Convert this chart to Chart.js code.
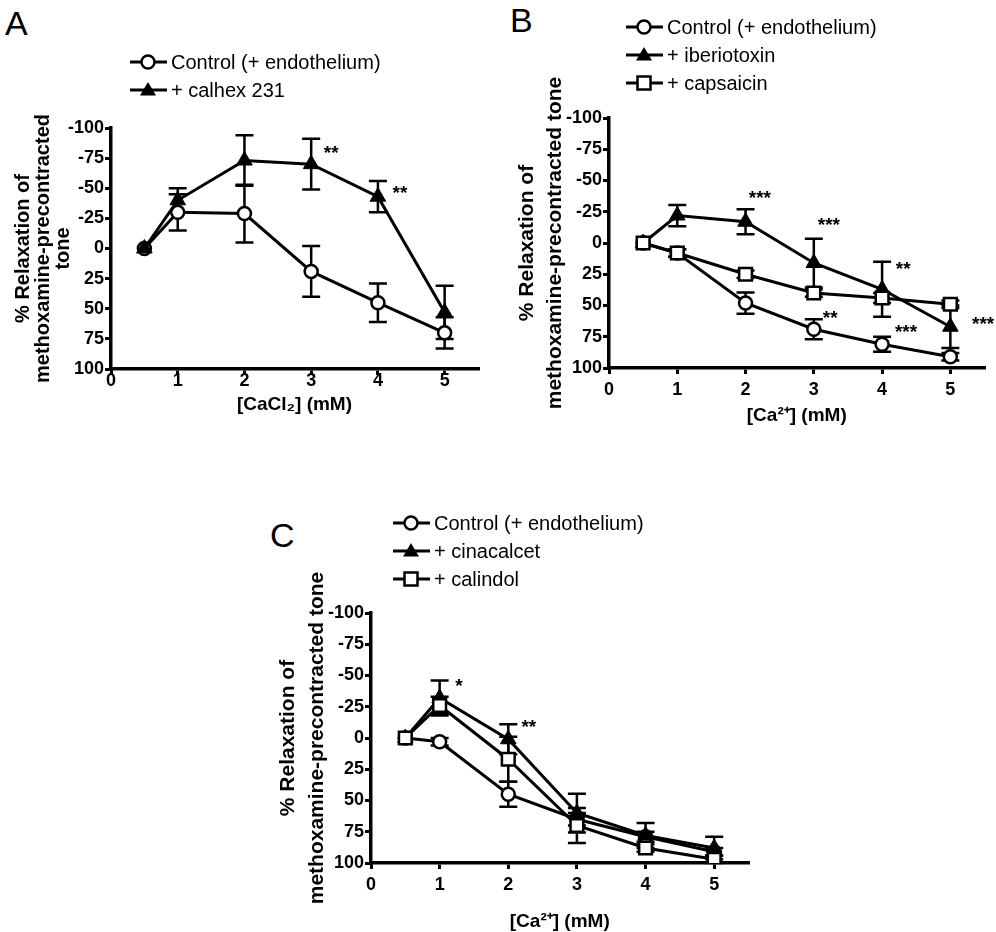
<!DOCTYPE html>
<html>
<head>
<meta charset="utf-8">
<script src="https://cdn.jsdelivr.net/npm/chart.js@4.4.0/dist/chart.umd.min.js"></script>
<style>
    body{margin:0;width:996px;height:932px;overflow:hidden;background:#fff;position:relative;font-family:"Liberation Sans",Arial,sans-serif;}
    .letter{position:absolute;font-size:34px;line-height:34px;color:#000;}
    .legend{position:absolute;font-size:20px;color:#000;}
    .legend div{height:28px;display:flex;align-items:center;white-space:nowrap;}
    .legend svg{margin-right:4px;}
    canvas{position:absolute;}
</style>
</head>
<body>
<canvas id="chartA" width="495" height="330" style="left:0;top:90px"></canvas>
<canvas id="chartB" width="496" height="361" style="left:500px;top:70px"></canvas>
<canvas id="chartC" width="500" height="381" style="left:260px;top:560px"></canvas>
<div class="letter" style="left:5px;top:6px">A</div>
<div class="letter" style="left:510px;top:3px">B</div>
<div class="letter" style="left:270px;top:518px">C</div>
<div class="legend" id="legA" style="left:130px;top:48px"></div>
<div class="legend" id="legB" style="left:626px;top:13px"></div>
<div class="legend" id="legC" style="left:393px;top:509px"></div>
<script>
// Ca concentrations (mM)
const doses = [0.5, 1, 2, 3, 4, 5];

// panel A
const ctrlA = [0, -30, -29, 19, 45, 70];
const ctrlA_sem = [0, 15, 24, 21, 16, 13];
const calhex = [0, -40, -73, -70, -43, 53];
const calhex_sem = [0, 10, 21, 21, 13, 22];
const starsA = [
    {x: 3.3, y: -83, t: '**'},
    {x: 4.33, y: -50, t: '**'},
];

// panel B
const ctrlB = [0, 8, 48, 69, 81, 91];
const ctrlB_sem = [0, 3, 8.5, 8, 6, 3];
const iberio = [0, -22, -17, 16, 37, 67];
const iberio_sem = [0, 8.5, 10, 19.5, 22, 17];
const capsa = [0, 8, 25, 40, 44, 49];
const capsa_sem = [0, 3, 3, 3, 4, 3];
const starsB = [
    {x: 2.21, y: -40, t: '***'},
    {x: 3.22, y: -18.6, t: '***'},
    {x: 4.31, y: 17, t: '**'},
    {x: 3.24, y: 56, t: '**'},
    {x: 4.35, y: 67, t: '***'},
    {x: 5.48, y: 61, t: '***'},
];

// panel C
const ctrlC = [0, 3, 45, 65, 79, 91];
const ctrlC_sem = [0, 3, 10, 5, 4, 3];
const cinac = [0, -32, 1, 60, 78, 88];
const cinac_sem = [0, 14, 12, 15.5, 10, 9];
const calind = [0, -26, 17, 70, 88, 97];
const calind_sem = [0, 7, 18, 14, 3, 3];
const starsC = [
    {x: 1.28, y: -46, t: '*'},
    {x: 2.3, y: -13, t: '**'},
];

const yTitleLong = ['% Relaxation of', 'methoxamine-precontracted tone'];
const yTitleA = ['% Relaxation of', 'methoxamine-precontracted', 'tone'];

Chart.defaults.font.family = '"Liberation Sans", Arial, sans-serif';
Chart.defaults.color = '#000';

const markers = {
    circle: {pointStyle: 'circle', pointRadius: 6.5, pointBorderWidth: 2.5, pointBackgroundColor: '#fff'},
    triangle: {pointStyle: 'triangle', pointRadius: 9, pointBorderWidth: 1, pointBackgroundColor: '#000'},
    rect: {pointStyle: 'rect', pointRadius: 9, pointBorderWidth: 2.5, pointBackgroundColor: '#fff'},
};

function series(label, vals, sem, style, order) {
    return Object.assign({
        label: label,
        data: doses.map((d, i) => ({x: d, y: vals[i]})),
        sem: sem,
        order: order,
        borderColor: '#000',
        borderWidth: 3,
        pointBorderColor: '#000',
        fill: false,
        tension: 0,
    }, markers[style]);
}

// error bars under the markers, asterisks on top
const errorBars = {
    id: 'errorBars',
    beforeDatasetsDraw(chart) {
        const ctx = chart.ctx, xs = chart.scales.x, ys = chart.scales.y;
        ctx.save();
        ctx.strokeStyle = '#000';
        ctx.lineWidth = 2.5;
        chart.data.datasets.forEach(ds => {
            ds.sem.forEach((e, i) => {
                if (!e) return;
                const p = ds.data[i];
                const x = xs.getPixelForValue(p.x);
                const y1 = ys.getPixelForValue(p.y - e);
                const y2 = ys.getPixelForValue(p.y + e);
                ctx.beginPath();
                ctx.moveTo(x, y1); ctx.lineTo(x, y2);
                ctx.moveTo(x - 9, y1); ctx.lineTo(x + 9, y1);
                ctx.moveTo(x - 9, y2); ctx.lineTo(x + 9, y2);
                ctx.stroke();
            });
        });
        ctx.restore();
    },
    afterDatasetsDraw(chart, args, opts) {
        const ctx = chart.ctx, xs = chart.scales.x, ys = chart.scales.y;
        ctx.save();
        ctx.fillStyle = '#000';
        ctx.font = 'bold 19px "Liberation Sans", Arial, sans-serif';
        ctx.textAlign = 'center';
        ctx.textBaseline = 'alphabetic';
        (opts.stars || []).forEach(s => {
            ctx.fillText(s.t, xs.getPixelForValue(s.x), ys.getPixelForValue(s.y) + 11);
        });
        ctx.restore();
    }
};

function legendIcon(style) {
    let m = '';
    if (style === 'circle') m = '<circle cx="18" cy="10" r="6.5" fill="#fff" stroke="#000" stroke-width="2.5"/>';
    if (style === 'triangle') m = '<polygon points="18,2 26,15.5 10,15.5" fill="#000"/>';
    if (style === 'rect') m = '<rect x="11.5" y="3.5" width="13" height="13" fill="#fff" stroke="#000" stroke-width="2.5"/>';
    return '<svg width="37" height="20"><line x1="0" y1="10" x2="37" y2="10" stroke="#000" stroke-width="3"/>' + m + '</svg>';
}

function makeLegend(id, datasets) {
    const el = document.getElementById(id);
    datasets.forEach(ds => {
        const row = document.createElement('div');
        row.innerHTML = legendIcon(ds.pointStyle) + '<span>' + ds.label + '</span>';
        el.appendChild(row);
    });
}

function makeChart(id, datasets, stars, o) {
    return new Chart(document.getElementById(id), {
        type: 'line',
        data: {datasets: datasets},
        options: {
            responsive: false,
            animation: false,
            layout: {padding: o.pad},
            plugins: {
                legend: {display: false},
                tooltip: {enabled: false},
                errorBars: {stars: stars},
            },
            scales: {
                x: {
                    type: 'linear', min: 0, max: 5.5,
                    afterFit: s => { s.height = o.xh; },
                    ticks: {stepSize: 1, includeBounds: false, color: '#000', padding: o.xpad,
                        font: {size: 18, weight: 'bold'}},
                    grid: {drawOnChartArea: false, color: '#000', lineWidth: 3, tickLength: 6},
                    border: {color: '#000', width: 3.5},
                    title: {display: true, text: o.xtitle, color: '#000', padding: {top: 0, bottom: o.xtb},
                        font: {size: 19, weight: 'bold'}},
                },
                y: {
                    type: 'linear', min: -100, max: 100, reverse: true,
                    afterFit: s => { s.width = o.yw; },
                    ticks: {stepSize: 25, color: '#000', padding: 1, font: {size: 18, weight: 'bold'}},
                    grid: {drawOnChartArea: false, color: '#000', lineWidth: 3, tickLength: 6},
                    border: {color: '#000', width: 3.5},
                    title: {display: true, text: o.ytitle, color: '#000', padding: {top: o.ytp, bottom: 0},
                        font: {size: o.yfs, weight: 'bold', lineHeight: o.ylh}},
                },
            },
        },
        plugins: [errorBars],
    });
}

const dsA = [
    series('Control (+ endothelium)', ctrlA, ctrlA_sem, 'circle', 2),
    series('+ calhex 231', calhex, calhex_sem, 'triangle', 1),
];
const dsB = [
    series('Control (+ endothelium)', ctrlB, ctrlB_sem, 'circle', 3),
    series('+ iberiotoxin', iberio, iberio_sem, 'triangle', 2),
    series('+ capsaicin', capsa, capsa_sem, 'rect', 1),
];
const dsC = [
    series('Control (+ endothelium)', ctrlC, ctrlC_sem, 'circle', 3),
    series('+ cinacalcet', cinac, cinac_sem, 'triangle', 2),
    series('+ calindol', calind, calind_sem, 'rect', 1),
];

makeLegend('legA', dsA);
makeLegend('legB', dsB);
makeLegend('legC', dsC);

makeChart('chartA', dsA, starsA, {
    pad: {left: 0, top: 38, right: 17, bottom: 0}, yw: 111, xh: 51, xpad: -5, xtb: 4,
    xtitle: '[CaCl\u2082] (mM)', ytitle: yTitleA, yfs: 20, ylh: 1.0, ytp: 13,
});
makeChart('chartB', dsB, starsB, {
    pad: {left: 0, top: 48, right: 9, bottom: 0}, yw: 109, xh: 63, xpad: 5, xtb: 4,
    xtitle: '[Ca\u00b2\u207a] (mM)', ytitle: yTitleLong, yfs: 21, ylh: 1.333, ytp: 13,
});
makeChart('chartC', dsC, starsC, {
    pad: {left: 0, top: 53, right: 11, bottom: 0}, yw: 111, xh: 78, xpad: 5, xtb: 8,
    xtitle: '[Ca\u00b2\u207a] (mM)', ytitle: yTitleLong, yfs: 21, ylh: 1.38, ytp: 13.5,
});
</script>
</body>
</html>
